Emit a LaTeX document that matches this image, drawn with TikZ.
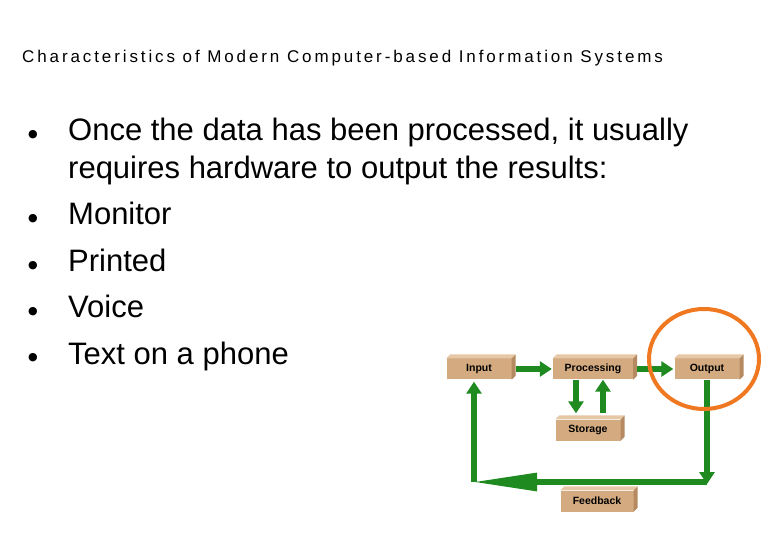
\documentclass[tikz,border=0pt]{standalone}
\usepackage{fontspec}
\setmainfont{Liberation Sans}
\newfontfamily\symfont{DejaVu Sans}
\usetikzlibrary{arrows.meta,calc}
\definecolor{boxtan}{HTML}{D4AA80}
\definecolor{boxtop}{HTML}{E6C8A6}
\definecolor{boxside}{HTML}{B58A60}
\definecolor{flowgreen}{HTML}{1F8A1F}
\definecolor{ringorange}{HTML}{F07820}
\newcommand{\boxdepth}[1]{%
  \fill[boxtop] (#1.north west) -- ++(4,-4) -- ($(#1.north east)+(4,-4)$) -- (#1.north east) -- cycle;
  \fill[boxside] (#1.north east) -- ++(4,-4) -- ($(#1.south east)+(4,-4)$) -- (#1.south east) -- cycle;}
\begin{document}
\begin{tikzpicture}[x=1pt,y=-1pt,
    flow/.style={line width=6pt,color=flowgreen,
      -{Triangle[length=12pt,width=15pt]}},
    stage/.style={rectangle,fill=boxtan,inner sep=0pt,
      font=\bfseries\fontsize{10.5}{12}\selectfont,minimum height=21pt},
    bullet/.style={anchor=base west,font=\fontsize{31}{36}\selectfont}]
  \useasboundingbox (0,0) rectangle (780,540);
  \node[anchor=base west,inner sep=0pt,
    font=\fontsize{17}{20}\selectfont\addfontfeature{LetterSpace=17}] (title) at (22,63)
    {Characteristics of Modern Computer-based Information Systems};
  % bullet list
  \foreach \y/\t [count=\i] in {141/{Once the data has been processed, it usually},
      225/Monitor, 272/Printed, 318/Voice, 364/Text on a phone}
    \node[bullet,inner sep=0pt] (item\i) at (68,\y) {\t};
  \node[bullet,inner sep=0pt] (item1b) at (68,179) {requires hardware to output the results:};
  \foreach \y in {138,222,269,315,361}
    \node[anchor=base,font=\symfont\fontsize{11}{11}\selectfont] at (33,\y) {●};
  % boxes
  \node[stage,minimum width=65pt] (input) at (479,369) {Input};
  \node[stage,minimum width=80pt] (proc) at (593,369) {Processing};
  \node[stage,minimum width=65pt] (output) at (707,369) {Output};
  \node[stage,minimum width=65pt] (storage) at (588,430) {Storage};
  \node[stage,minimum width=73pt] (feedback) at (597,501) {Feedback};
  \foreach \n in {input,proc,output,storage,feedback} \boxdepth{\n};
  \coordinate (bend1) at (707,482);
  \coordinate (bend2) at (474,482);
  % flow arrows
  \draw[flow] ($(input.east)+(4,0)$) -- ($(proc.west)-(1,0)$);
  \draw[flow] ($(proc.east)+(4,0)$) -- ($(output.west)-(1,0)$);
  \draw[flow] ($(proc.south)+(-17,0)$) -- ($(storage.north)+(-12,-6)$);
  \draw[flow] ($(storage.north)+(15,-6)$) -- ($(proc.south)+(10,0)$);
  \draw[flow] (output.south) -- ($(bend1)+(0,2)$);
  \draw[flow,-{Triangle[length=65pt,width=17pt]}] (bend1) -- ($(bend2)+(-2,0)$);
  \draw[flow] (bend2) -- ($(input.south)+(-5,2)$);
  % highlight ring
  \draw[ringorange,line width=4pt] (704,359) ellipse (55 and 50);
\end{tikzpicture}
\end{document}
